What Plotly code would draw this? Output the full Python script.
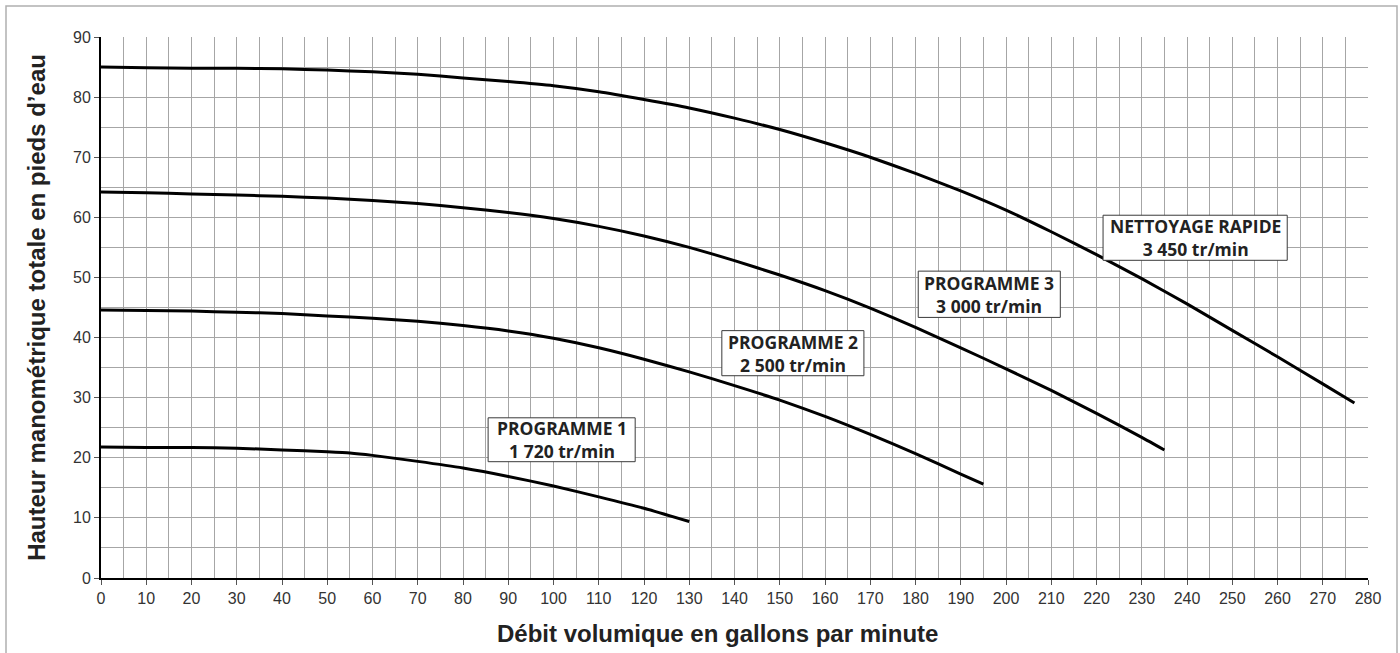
import plotly.graph_objects as go

# ---- data ----
x_p1 = [0, 10, 20, 30, 40, 50, 55, 60, 70, 80, 90, 100, 110, 120, 130]
y_p1 = [21.8, 21.7, 21.7, 21.6, 21.3, 21.0, 20.8, 20.4, 19.4, 18.3, 16.9, 15.3, 13.5, 11.6, 9.4]

x_p2 = [0, 10, 20, 30, 40, 50, 60, 70, 80, 90, 100, 110, 120, 130, 140, 150, 160, 170, 180, 190, 195]
y_p2 = [44.6, 44.5, 44.4, 44.2, 44.0, 43.6, 43.2, 42.7, 42.0, 41.1, 39.9, 38.3, 36.4, 34.3, 32.0, 29.6, 26.9, 23.9, 20.7, 17.3, 15.6]

x_p3 = [0, 10, 20, 30, 40, 50, 60, 70, 80, 90, 100, 110, 120, 130, 140, 150, 160, 170, 180, 190, 200, 210, 220, 230, 235]
y_p3 = [64.2, 64.1, 63.9, 63.7, 63.5, 63.2, 62.8, 62.3, 61.6, 60.8, 59.8, 58.5, 56.9, 55.0, 52.8, 50.4, 47.8, 44.9, 41.7, 38.3, 34.8, 31.2, 27.4, 23.4, 21.3]

x_nr = [0, 10, 20, 30, 40, 50, 60, 70, 80, 90, 100, 110, 120, 130, 140, 150, 160, 170, 180, 190, 200, 210, 220, 230, 240, 250, 260, 270, 277]
y_nr = [85.0, 84.9, 84.8, 84.8, 84.7, 84.5, 84.2, 83.8, 83.2, 82.6, 81.9, 80.9, 79.6, 78.2, 76.5, 74.6, 72.4, 70.0, 67.3, 64.4, 61.2, 57.6, 53.8, 49.8, 45.6, 41.2, 36.8, 32.3, 29.1]

labels = [
    "PROGRAMME 1<br>1 720 tr/min",
    "PROGRAMME 2<br>2 500 tr/min",
    "PROGRAMME 3<br>3 000 tr/min",
    "NETTOYAGE RAPIDE<br>3 450 tr/min",
]
label_x = [101.8, 152.9, 196.3, 241.8]
label_y = [23.0, 37.4, 47.2, 56.6]

x_ticks = list(range(0, 290, 10))
y_ticks = list(range(0, 100, 10))

x_title = "Débit volumique en gallons par minute"
y_title = "Hauteur manométrique totale en pieds d’eau"

fig = go.Figure()
for xs, ys in [(x_p1, y_p1), (x_p2, y_p2), (x_p3, y_p3), (x_nr, y_nr)]:
    fig.add_trace(go.Scatter(x=xs, y=ys, mode="lines",
                             line=dict(color="black", width=3, shape="spline", smoothing=0.5),
                             showlegend=False, hoverinfo="skip"))

# label boxes (layout positions in data units) + text
box_half_w = [16.25, 15.7, 15.7, 20.35]
box_half_h = [3.65, 3.75, 3.85, 3.75]
for t, ax, ay, hw, hh in zip(labels, label_x, label_y, box_half_w, box_half_h):
    fig.add_shape(type="rect", xref="x", yref="y", x0=ax - hw, x1=ax + hw, y0=ay - hh, y1=ay + hh,
                  fillcolor="white", line=dict(color="#3a3a3a", width=1), layer="above")
    fig.add_annotation(x=ax, y=ay, xref="x", yref="y", text="<b>" + t + "</b>",
                       showarrow=False, align="center",
                       font=dict(family="Open Sans", size=17.5, color="#222222"))

grid_col = "#a6a6a6"
W, H = 1400, 653
ml, mr, mt, mb = 101, 32, 37, 75
pw, ph = W - ml - mr, H - mt - mb

# x-axis title as a paper annotation (slightly left of centre, as in the reference)
fig.add_annotation(x=(717 - ml) / pw, y=0, xref="paper", yref="paper",
                   xanchor="center", yanchor="middle", yshift=-55, showarrow=False,
                   text="<b>" + x_title + "</b>",
                   font=dict(family="Liberation Sans, Arial", size=24, color="#222222"))

fig.update_layout(
    width=W, height=H,
    margin=dict(l=ml, r=mr, t=mt, b=mb),
    paper_bgcolor="white", plot_bgcolor="white",
    showlegend=False,
    xaxis=dict(range=[0, 280], tickvals=x_ticks, showgrid=True, gridcolor=grid_col, gridwidth=1,
               minor=dict(dtick=5, tick0=0, showgrid=True, gridcolor=grid_col, gridwidth=1),
               showline=True, linecolor="black", linewidth=2,
               ticks="outside", ticklen=5, tickcolor="#555555",
               tickfont=dict(family="Liberation Sans, Arial", size=16, color="#333333"),
               zeroline=False),
    yaxis=dict(range=[0, 90], tickvals=y_ticks, showgrid=True, gridcolor=grid_col, gridwidth=1,
               minor=dict(dtick=5, tick0=0, showgrid=True, gridcolor=grid_col, gridwidth=1),
               showline=True, linecolor="black", linewidth=2,
               ticks="outside", ticklen=5, tickcolor="#555555",
               tickfont=dict(family="Liberation Sans, Arial", size=16, color="#333333"),
               zeroline=False,
               title=dict(text="<b>" + y_title + "</b>",
                          font=dict(family="Liberation Sans, Arial", size=24, color="#222222"),
                          standoff=21)),
)

# light grey frame around the whole figure
fig.add_shape(type="rect", xref="paper", yref="paper",
              x0=(6 - ml) / pw, x1=(1397 - ml) / pw,
              y0=(H - mb - 720) / ph, y1=(H - mb - 6) / ph,
              line=dict(color="#b0b0b0", width=1.5), layer="below")

fig.write_html("out.html", config={"displayModeBar": False},
               post_script="document.body.style.margin='0';document.body.style.overflow='hidden';")
